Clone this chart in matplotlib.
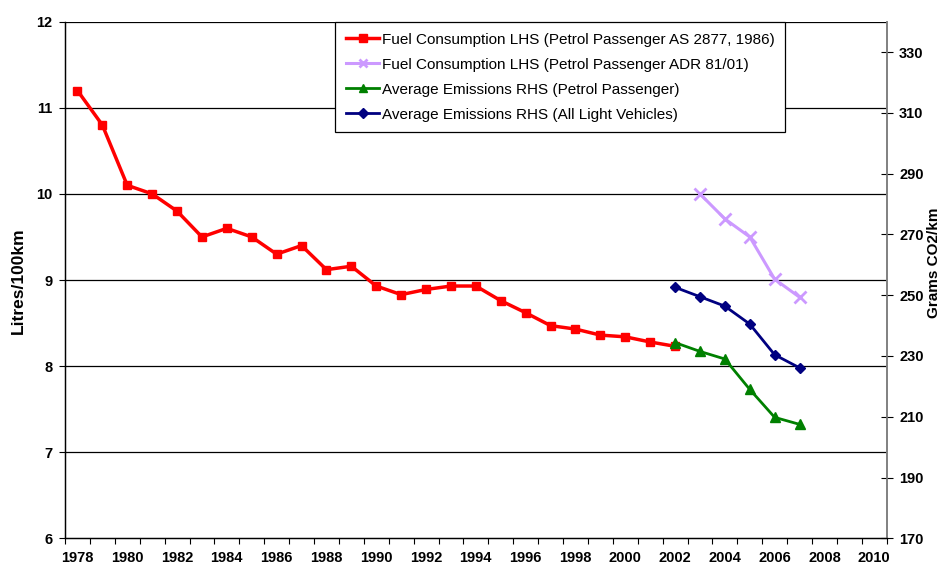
import matplotlib
matplotlib.use('Agg')
import matplotlib.pyplot as plt
from matplotlib.ticker import FixedLocator, NullFormatter


plt.rcParams['font.family'] = ['Liberation Sans', 'DejaVu Sans']

# data
years_as2877 = list(range(1978, 2003))
fuel_as2877 = [11.2, 10.8, 10.1, 10.0, 9.8, 9.5, 9.6, 9.5, 9.3, 9.4,
               9.12, 9.16, 8.93, 8.83, 8.89, 8.93, 8.93, 8.76, 8.62, 8.47,
               8.43, 8.36, 8.34, 8.28, 8.23]

years_adr = [2003, 2004, 2005, 2006, 2007]
fuel_adr = [10.0, 9.71, 9.5, 9.01, 8.8]

years_emis = [2002, 2003, 2004, 2005, 2006, 2007]
emis_petrol = [234.4, 231.5, 229.0, 219.0, 209.8, 207.5]
emis_all = [252.6, 249.5, 246.4, 240.5, 230.4, 226.1]

left_ticks = [6, 7, 8, 9, 10, 11, 12]
right_ticks = [170, 190, 210, 230, 250, 270, 290, 310, 330]
year_labels = list(range(1978, 2011, 2))

tick_font = dict(fontsize=10.5, fontweight='bold')

fig = plt.figure(figsize=(9.44, 5.67), dpi=100)
ax = fig.add_axes([65 / 944, 1 - 538.3 / 567, 821.7 / 944, 516.6 / 567])
ax2 = ax.twinx()

# left axis series
l1, = ax.plot(years_as2877, fuel_as2877, color='#ff0000', lw=2.5,
              marker='s', ms=6, zorder=3,
              label='Fuel Consumption LHS (Petrol Passenger AS 2877, 1986)')
l2, = ax.plot(years_adr, fuel_adr, color='#cc99ff', lw=2.2,
              marker='x', ms=8, mew=2, zorder=3,
              label='Fuel Consumption LHS (Petrol Passenger ADR 81/01)')

# right axis series
l3, = ax2.plot(years_emis, emis_petrol, color='#008000', lw=2,
               marker='^', ms=6.5, zorder=3,
               label='Average Emissions RHS (Petrol Passenger)')
l4, = ax2.plot(years_emis, emis_all, color='#000080', lw=2,
               marker='D', ms=5, zorder=3,
               label='Average Emissions RHS (All Light Vehicles)')

ax.set_xlim(1977.5, 2010.5)
ax.set_ylim(6, 12)
ax2.set_ylim(170, 340)

# horizontal gridlines on the left scale
for v in left_ticks[1:]:
    ax.axhline(v, color='#000000', lw=0.9, zorder=1)

ax.set_yticks(left_ticks)
ax.set_yticklabels([str(v) for v in left_ticks], **tick_font)
ax.tick_params(axis='y', direction='out', length=4, width=0.8, pad=5)

# category style x axis: ticks at boundaries, labels at year centres
ax.xaxis.set_major_locator(FixedLocator([y + 0.5 for y in range(1977, 2011)]))
ax.xaxis.set_major_formatter(NullFormatter())
ax.xaxis.set_minor_locator(FixedLocator(year_labels))
ax.set_xticklabels([str(y) for y in year_labels], minor=True, **tick_font)
ax.tick_params(axis='x', which='major', direction='out', length=4, width=0.8)
ax.tick_params(axis='x', which='minor', length=0, pad=9.5)

ax2.set_yticks(right_ticks)
ax2.set_yticklabels([str(v) for v in right_ticks], **tick_font)
ax2.tick_params(axis='y', direction='inout', length=8, width=0.8, pad=5)

for a in (ax, ax2):
    a.spines['top'].set_visible(False)
    a.spines['left'].set_linewidth(0.9)
    a.spines['bottom'].set_linewidth(0.9)
    a.spines['right'].set_color('#808080')
    a.spines['right'].set_linewidth(1.2)

fig.text(18 / 944, 1 - 281 / 567, 'Litres/100km', rotation=90,
         ha='center', va='center', fontsize=12.5, fontweight='bold')
fig.text(934 / 944, 1 - 263 / 567, 'Grams CO2/km', rotation=90,
         ha='center', va='center', fontsize=11, fontweight='bold')

leg = ax2.legend(handles=[l1, l2, l3, l4], loc='upper left',
                 bbox_to_anchor=(335 / 944, 1 - 22 / 567),
                 bbox_transform=fig.transFigure, fontsize=11,
                 frameon=True, fancybox=False, framealpha=1,
                 edgecolor='#000000', handlelength=2.2, handletextpad=0.15,
                 labelspacing=0.72, borderpad=0.7, borderaxespad=0)
leg.get_frame().set_linewidth(0.9)
for h in leg.legend_handles:
    h.set_markersize(5.5)

fig.savefig('out.png', dpi=100)
